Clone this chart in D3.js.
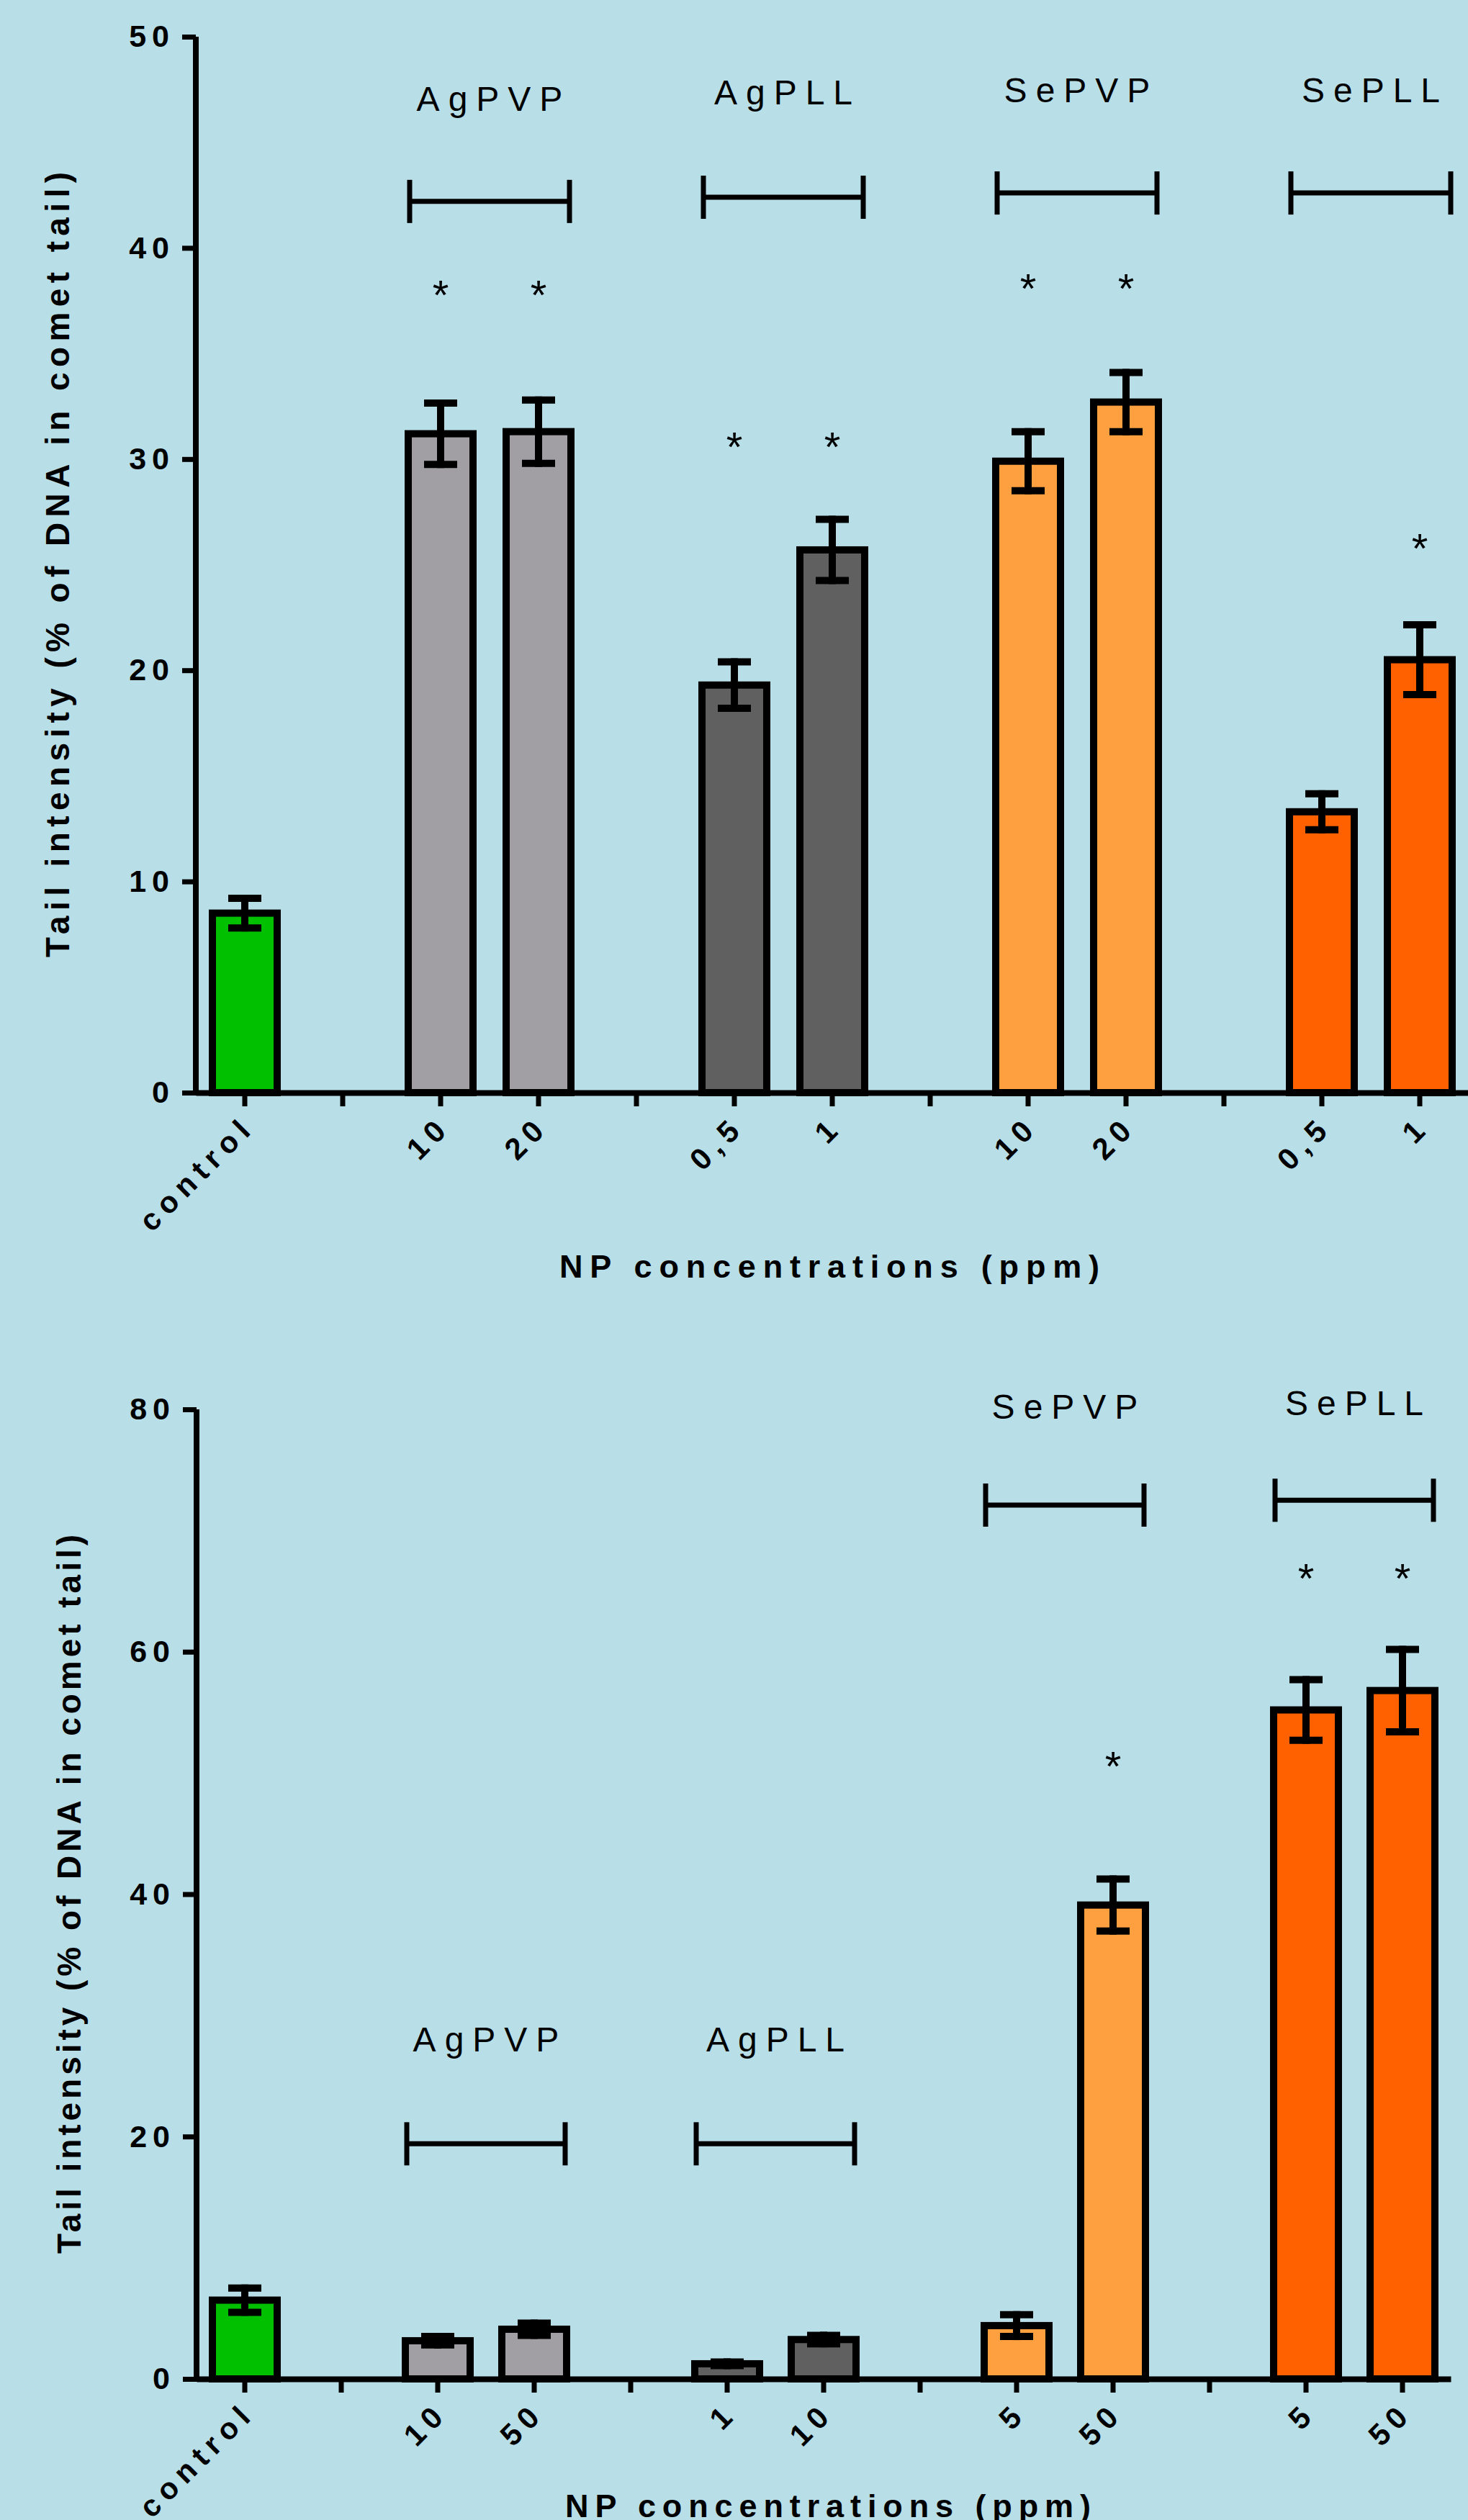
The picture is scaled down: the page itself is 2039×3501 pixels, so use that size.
<!DOCTYPE html>
<html>
<head>
<meta charset="utf-8">
<title>Tail intensity - comet assay</title>
<script src="https://cdnjs.cloudflare.com/ajax/libs/d3/7.8.5/d3.min.js"></script>
<style>
	html, body { margin: 0; padding: 0; background: #b8dee8; }
	svg { display: block; }
	text { font-family: "Liberation Sans", Arial, Helvetica, sans-serif; fill: #000; }
	.axis path, .axis line { stroke: #000; }
	.axis path { stroke-width: 8px; }
	.axis line { stroke-width: 7px; }
	.y.axis text { font-size: 43px; font-weight: bold; letter-spacing: 8px; }
	.x.axis text { font-size: 42px; font-weight: bold; letter-spacing: 9px; }
	rect.bar { stroke: #000; stroke-width: 10px; }
	.err line { stroke: #000; stroke-width: 10px; }
	.bracket line { stroke: #000; stroke-width: 7px; }
	.group-name { font-size: 48px; letter-spacing: 12px; }
	.star { font-size: 58px; }
	.title { font-weight: bold; }
</style>
</head>
<body>
<script>
// x slots, empty strings are the gaps between groups
var topTicks = ["control", "", "10", "20", "", "0,5", "1", "", "10", "20", "", "0,5", "1"];
var topMeans = [8.5, null, 31.2, 31.3, null, 19.3, 25.7, null, 29.9, 32.7, null, 13.3, 20.5];
var topErrors = [0.7, null, 1.45, 1.5, null, 1.1, 1.45, null, 1.4, 1.4, null, 0.85, 1.65];
var topStars = [0, 0, 1, 1, 0, 1, 1, 0, 1, 1, 0, 0, 1];

var bottomTicks = ["control", "", "10", "50", "", "1", "10", "", "5", "50", "", "5", "50"];
var bottomMeans = [6.5, null, 3.15, 4.1, null, 1.25, 3.25, null, 4.4, 39.1, null, 55.2, 56.8];
var bottomErrors = [1.0, null, 0.35, 0.5, null, 0.15, 0.35, null, 0.9, 2.15, null, 2.5, 3.4];
var bottomStars = [0, 0, 0, 0, 0, 0, 0, 0, 0, 1, 0, 1, 1];

// which group each slot belongs to (0 = control, -1 = gap)
var slotGroup = [0, -1, 1, 1, -1, 2, 2, -1, 3, 3, -1, 4, 4];
var groupNames = ["AgPVP", "AgPLL", "SePVP", "SePLL"];
var groupColors = ["#00c000", "#a19fa4", "#606060", "#ffa040", "#ff6000"];

// annotation levels, in y units
var topBracketLevel = [42.2, 42.4, 42.6, 42.6];
var topNameLevel = [46.5, 46.8, 46.9, 46.9];
var topStarLevel = [38.2, 31.0, 38.5, 26.2];
var bottomBracketLevel = [19.4, 19.4, 72.1, 72.5];
var bottomNameLevel = [27.0, 27.0, 79.2, 79.5];
var bottomStarLevel = [null, null, 51.3, 66.8];

var yTicksTop = [0, 10, 20, 30, 40, 50];
var yTicksBottom = [0, 20, 40, 60, 80];

var yTitle = "Tail intensity (% of DNA in comet tail)";
var xTitle = "NP concentrations (ppm)";

var W = 2039, H = 3501;

var svg = d3.select("body").append("svg")
	.attr("width", W)
	.attr("height", H);

svg.append("rect")
	.attr("width", W)
	.attr("height", H)
	.attr("fill", "#b8dee8");

function drawChart(c) {
	"use strict";

	var g = svg.append("g");

	var x = d3.scaleBand()
		.domain(d3.range(c.ticks.length))
		.range([c.left, c.right])
		.padding(0);

	var y = d3.scaleLinear()
		.domain([0, c.yTicks[c.yTicks.length - 1]])
		.range([c.bottom, c.top]);

	var cx = function(i) { return x(i) + x.bandwidth() / 2; };
	var barW = 90;

	var slots = d3.range(c.ticks.length).filter(function(i) { return c.means[i] !== null; });

	// bars
	g.selectAll("rect.bar")
		.data(slots)
		.enter()
		.append("rect")
			.attr("class", "bar")
			.attr("x", function(i) { return cx(i) - barW / 2; })
			.attr("width", barW)
			.attr("y", function(i) { return y(c.means[i]); })
			.attr("height", function(i) { return y(0) - y(c.means[i]); })
			.attr("fill", function(i) { return groupColors[slotGroup[i]]; });

	// error bars
	var err = g.selectAll("g.err")
		.data(slots)
		.enter()
		.append("g")
			.attr("class", "err");

	err.append("line")
		.attr("x1", cx).attr("x2", cx)
		.attr("y1", function(i) { return y(c.means[i] - c.errors[i]) + 5; })
		.attr("y2", function(i) { return y(c.means[i] + c.errors[i]) - 5; });
	err.append("line")
		.attr("x1", function(i) { return cx(i) - 23; })
		.attr("x2", function(i) { return cx(i) + 23; })
		.attr("y1", function(i) { return y(c.means[i] + c.errors[i]); })
		.attr("y2", function(i) { return y(c.means[i] + c.errors[i]); });
	err.append("line")
		.attr("x1", function(i) { return cx(i) - 23; })
		.attr("x2", function(i) { return cx(i) + 23; })
		.attr("y1", function(i) { return y(c.means[i] - c.errors[i]); })
		.attr("y2", function(i) { return y(c.means[i] - c.errors[i]); });

	// axes
	var yAxis = d3.axisLeft(y)
		.tickValues(c.yTicks)
		.tickSize(19)
		.tickSizeOuter(0)
		.tickPadding(10);

	g.append("g")
		.attr("class", "y axis")
		.attr("transform", "translate(" + c.left + ",0)")
		.call(yAxis)
		.call(function(a) { a.select(".domain").attr("d", "M0," + (c.bottom + 4) + "V" + c.top); });

	var xAxis = d3.axisBottom(x)
		.tickSize(19)
		.tickSizeOuter(0)
		.tickFormat(function(i) { return c.ticks[i]; });

	g.append("g")
		.attr("class", "x axis")
		.attr("transform", "translate(0," + c.bottom + ")")
		.call(xAxis)
		.selectAll("text")
			.attr("x", 0)
			.attr("y", 0)
			.attr("dy", null)
			.attr("text-anchor", "end")
			.attr("transform", "translate(16,50) rotate(-45)");

	// group brackets and names
	groupNames.forEach(function(name, k) {
		var idx = slots.filter(function(i) { return slotGroup[i] === k + 1; });
		var x1 = cx(idx[0]) - barW / 2 + 2,
			x2 = cx(idx[idx.length - 1]) + barW / 2 - 2,
			yb = y(c.bracketLevel[k]);

		var b = g.append("g").attr("class", "bracket");
		b.append("line").attr("x1", x1).attr("x2", x2).attr("y1", yb).attr("y2", yb);
		b.append("line").attr("x1", x1).attr("x2", x1).attr("y1", yb - 30).attr("y2", yb + 30);
		b.append("line").attr("x1", x2).attr("x2", x2).attr("y1", yb - 30).attr("y2", yb + 30);

		g.append("text")
			.attr("class", "group-name")
			.attr("x", (x1 + x2) / 2 + 6)
			.attr("y", y(c.nameLevel[k]))
			.attr("text-anchor", "middle")
			.text(name);

		idx.forEach(function(i) {
			if (!c.stars[i]) return;
			g.append("text")
				.attr("class", "star")
				.attr("x", cx(i))
				.attr("y", y(c.starLevel[k]) + 33)
				.attr("text-anchor", "middle")
				.text("*");
		});
	});

	// titles
	g.append("text")
		.attr("class", "title")
		.attr("transform", "translate(" + c.yTitleX + "," + ((c.top + c.bottom) / 2) + ") rotate(-90)")
		.attr("text-anchor", "middle")
		.attr("font-size", 46)
		.attr("textLength", c.yTitleLen)
		.attr("lengthAdjust", "spacing")
		.text(yTitle);

	g.append("text")
		.attr("class", "title")
		.attr("x", c.xTitleX)
		.attr("y", c.xTitleY)
		.attr("text-anchor", "middle")
		.attr("font-size", 45)
		.attr("textLength", c.xTitleLen)
		.attr("lengthAdjust", "spacing")
		.text(xTitle);
}

drawChart({
	ticks: topTicks, means: topMeans, errors: topErrors, stars: topStars,
	bracketLevel: topBracketLevel, nameLevel: topNameLevel, starLevel: topStarLevel,
	yTicks: yTicksTop,
	left: 272, right: 2040, bottom: 1518, top: 51,
	yTitleX: 96, yTitleLen: 1091,
	xTitleX: 1152, xTitleY: 1775, xTitleLen: 750
});

drawChart({
	ticks: bottomTicks, means: bottomMeans, errors: bottomErrors, stars: bottomStars,
	bracketLevel: bottomBracketLevel, nameLevel: bottomNameLevel, starLevel: bottomStarLevel,
	yTicks: yTicksBottom,
	left: 273, right: 2015, bottom: 3305, top: 1958,
	yTitleX: 112, yTitleLen: 999,
	xTitleX: 1150, xTitleY: 3497, xTitleLen: 730
});
</script>
</body>
</html>
